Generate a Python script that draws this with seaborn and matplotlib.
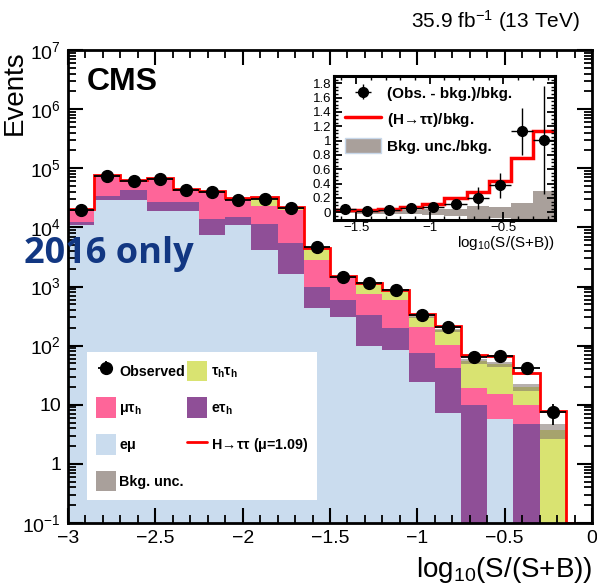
import numpy as np
import pandas as pd
import matplotlib
matplotlib.use("Agg")
import matplotlib.pyplot as plt
import seaborn as sns
from matplotlib.ticker import MultipleLocator, LogLocator, FuncFormatter, NullFormatter
from matplotlib.patches import Patch
from matplotlib.lines import Line2D

# ---------------- data ----------------
bin_edges = [-3.0, -2.85, -2.7, -2.55, -2.4, -2.25, -2.1, -1.95, -1.8, -1.65,
             -1.5, -1.35, -1.2, -1.05, -0.9, -0.75, -0.6, -0.45, -0.3, -0.15, 0.0]

emu = [10800, 28800, 29500, 18800, 18800, 7300, 10900, 4100, 1650, 440,
       306, 98, 85, 24.5, 7.3, 0, 5.8, 0, 0, 0]
etau = [1400, 5700, 14000, 7800, 8200, 6700, 4200, 7100, 3850, 540,
        280, 232, 112, 49.5, 34, 10, 0, 4.74, 0, 0]
mutau = [8200, 41000, 18500, 41500, 16000, 26000, 16000, 12200, 14500, 1790,
         835, 408, 388, 129, 61, 9, 9.6, 5.2, 0, 0]
tautau = [200, 400, 500, 500, 600, 800, 500, 9000, 1400, 1630,
          25, 362, 235, 107, 80, 35.5, 32.6, 9.8, 3.7, 0]
signal = [25, 130, 150, 230, 200, 270, 300, 430, 400, 132,
          51, 50, 66, 37, 36, 16, 20, 15, 4.2, 0]
bkg_unc_rel = [0.01, 0.01, 0.01, 0.01, 0.01, 0.012, 0.012, 0.012, 0.012, 0.015,
               0.02, 0.025, 0.03, 0.04, 0.05, 0.09, 0.08, 0.13, 0.30, 0.0]
observed = [20000, 73000, 62000, 67000, 43000, 40000, 29000, 30500, 21000, 4600,
            1475, 1140, 870, 332, 204, 65, 66, 42, 7.4, np.nan]
observed_err = [141, 270, 249, 259, 207, 200, 170, 175, 145, 68,
                38, 34, 29, 18, 14, 8, 8, 6.5, 2.8, np.nan]

# inset (bins from -1.65 to -0.15)
inset_edges = [-1.65, -1.5, -1.35, -1.2, -1.05, -0.9, -0.75, -0.6, -0.45, -0.3, -0.15]
ratio_obs = [0.05, 0.02, 0.037, 0.06, 0.07, 0.12, 0.2, 0.375, 1.13, 1.01]
ratio_obs_err = [0.015, 0.02, 0.025, 0.03, 0.04, 0.07, 0.15, 0.18, 0.33, 0.75]
ratio_sig = [0.03, 0.035, 0.045, 0.08, 0.12, 0.2, 0.29, 0.43, 0.76, 1.13]
ratio_unc = [0.015, 0.02, 0.025, 0.03, 0.04, 0.05, 0.09, 0.08, 0.13, 0.30]

processes = ["tautau", "mutau", "etau", "emu"]
colors = {"emu": "#cadcee", "etau": "#8f4f97", "mutau": "#fe6599", "tautau": "#d9e371"}
unc_color = "#7d706b"

# ---------------- style ----------------
sns.set_theme(style="ticks")
plt.rcParams["font.family"] = ["Liberation Sans", "DejaVu Sans"]
plt.rcParams["mathtext.fontset"] = "custom"
plt.rcParams["mathtext.rm"] = "Liberation Sans"
plt.rcParams["mathtext.it"] = "Liberation Sans:italic"
plt.rcParams["mathtext.bf"] = "Liberation Sans:bold"
plt.rcParams["xtick.direction"] = "in"
plt.rcParams["ytick.direction"] = "in"
plt.rcParams["xtick.top"] = True
plt.rcParams["ytick.right"] = True
plt.rcParams["axes.unicode_minus"] = True
for k in ["axes.edgecolor", "xtick.color", "ytick.color", "text.color", "axes.labelcolor"]:
    plt.rcParams[k] = "black"

edges = np.array(bin_edges)
centers = 0.5 * (edges[:-1] + edges[1:])
half_w = 0.5 * (edges[1:] - edges[:-1])

df = pd.DataFrame({
    "x": np.tile(centers, 4),
    "w": np.concatenate([tautau, mutau, etau, emu]),
    "process": np.repeat(processes, len(centers)),
})

fig = plt.figure(figsize=(5.97, 5.87), dpi=100)
ax = fig.add_axes([68 / 597, 1 - 523 / 587, 524 / 597, 473 / 587])

sns.histplot(data=df, x="x", weights="w", hue="process", hue_order=processes,
             bins=list(bin_edges), multiple="stack", element="step", palette=colors,
             alpha=1, linewidth=0, legend=False, ax=ax)
ax.set_yscale("log")
ax.set_axisbelow(False)

bkg = np.array(emu) + np.array(etau) + np.array(mutau) + np.array(tautau)
unc = np.array(bkg_unc_rel) * bkg
ax.stairs(bkg + unc, edges, baseline=np.maximum(bkg - unc, 1e-3), fill=True,
          color=unc_color, alpha=0.55, linewidth=0)

tot = np.maximum(bkg + np.array(signal), 0.1)
ax.stairs(tot, edges, color="red", linewidth=2.0, baseline=None)

obs_h = ax.errorbar(centers, observed, xerr=half_w, yerr=observed_err, fmt="o",
                    color="black", markersize=8.5, elinewidth=1.3, capsize=0)

ax.set_xlim(-3, 0)
ax.set_ylim(0.1, 1e7)
ax.xaxis.set_major_locator(MultipleLocator(0.5))
ax.xaxis.set_minor_locator(MultipleLocator(0.1))
ax.yaxis.set_major_locator(LogLocator(base=10, numticks=20))
ax.yaxis.set_minor_locator(LogLocator(base=10, subs=np.arange(2, 10), numticks=20))
ax.yaxis.set_minor_formatter(NullFormatter())


def logfmt(v, pos):
    e = int(round(np.log10(v)))
    if e == 0:
        return "1"
    if e == 1:
        return "10"
    return r"$10^{%d}$" % e


def numfmt(v, pos):
    return ("%g" % round(v, 2)).replace("-", "\u2212")


ax.yaxis.set_major_formatter(FuncFormatter(logfmt))
ax.xaxis.set_major_formatter(FuncFormatter(numfmt))
ax.tick_params(which="major", length=11, width=1.5, labelsize=14, pad=5)
ax.tick_params(which="minor", length=5.5, width=1.3)
for s in ax.spines.values():
    s.set_linewidth(2)
ax.set_xlabel(r"log$_{10}$(S/(S+B))", fontsize=20, loc="right", labelpad=6)
ax.set_ylabel("Events", fontsize=20, loc="top")
ax.yaxis.set_label_coords(-0.077, 1.0)

# legend
leg_handles = [obs_h,
               Patch(facecolor=colors["mutau"], edgecolor="none"),
               Patch(facecolor=colors["emu"], edgecolor="none"),
               Patch(facecolor="#a9a09b", edgecolor="none"),
               Patch(facecolor=colors["tautau"], edgecolor="none"),
               Patch(facecolor=colors["etau"], edgecolor="none"),
               Line2D([], [], color="red", linewidth=2)]
leg_labels = ["Observed",
              r"$\mathbf{\mu\tau_{h}}$",
              r"$\mathbf{e\mu}$",
              "Bkg. unc.",
              r"$\mathbf{\tau_{h}\tau_{h}}$",
              r"$\mathbf{e\tau_{h}}$",
              r"$\mathbf{H\!\rightarrow\!\tau\tau}$ $\mathbf{(\mu}$=1.09)"]
leg = ax.legend(leg_handles, leg_labels, ncol=2, loc="upper left",
                bbox_to_anchor=(87 / 597, 1 - 352 / 587), bbox_transform=fig.transFigure,
                prop={"weight": "bold", "size": 10.3}, frameon=True, fancybox=False,
                framealpha=1, facecolor="white", edgecolor="none",
                handlelength=1.4, handleheight=1.85, labelspacing=1.12,
                handletextpad=0.25, columnspacing=0.15, borderpad=0.6, borderaxespad=0)

# texts
fig.text(87 / 597, 1 - 82 / 587, "CMS", fontsize=23, fontweight="bold", va="center", ha="left")
fig.text(580 / 597, 1 - 21 / 587, r"35.9 fb$^{-1}$ (13 TeV)", fontsize=15, va="center", ha="right")
fig.text(24 / 597, 1 - 254 / 587, "2016 only", fontsize=26, fontweight="bold",
         family=["Open Sans", "DejaVu Sans"], color="#123782", va="center", ha="left")

# ---------------- inset ----------------
ax2 = fig.add_axes([334 / 597, 1 - 219.5 / 587, 221 / 597, 143.5 / 587])
iedges = np.array(inset_edges)
icent = 0.5 * (iedges[:-1] + iedges[1:])
ihw = 0.5 * (iedges[1:] - iedges[:-1])
ru = np.array(ratio_unc)
ax2.stairs(ru, iedges, baseline=-ru, fill=True, color="#a9a09b", linewidth=0)
ax2.stairs(ratio_sig, iedges, color="red", linewidth=2.5, baseline=None)
ins_h = ax2.errorbar(icent, ratio_obs, xerr=ihw, yerr=ratio_obs_err, fmt="o",
                     color="black", markersize=7, elinewidth=1.0, capsize=0)
ax2.set_axisbelow(False)
ax2.set_xlim(-1.65, -0.15)
ax2.set_ylim(-0.1, 1.9)
ax2.xaxis.set_major_locator(MultipleLocator(0.5))
ax2.xaxis.set_minor_locator(MultipleLocator(0.1))
ax2.yaxis.set_major_locator(MultipleLocator(0.2))
ax2.yaxis.set_minor_locator(MultipleLocator(0.05))
ax2.yaxis.set_major_formatter(FuncFormatter(numfmt))
ax2.xaxis.set_major_formatter(FuncFormatter(numfmt))
ax2.tick_params(which="major", length=6, width=1.3, labelsize=9.5, pad=2)
ax2.tick_params(which="minor", length=3, width=1.0)
for s in ax2.spines.values():
    s.set_linewidth(2.2)
ax2.set_xlabel(r"log$_{10}$(S/(S+B))", fontsize=11, loc="right", labelpad=0)
ax2.legend([ins_h, Line2D([], [], color="red", linewidth=2.5),
            Patch(facecolor="#a9a09b", edgecolor="#c8d8ea")],
           ["(Obs. - bkg.)/bkg.", r"$\mathbf{(H\!\rightarrow\!\tau\tau)}$/bkg.", "Bkg. unc./bkg."],
           loc="upper left", bbox_to_anchor=(343 / 597, 1 - 84 / 587),
           bbox_transform=fig.transFigure, frameon=False,
           prop={"weight": "bold", "size": 11}, handlelength=2.4, handleheight=1.1,
           labelspacing=0.62, handletextpad=0.4, borderpad=0.1, borderaxespad=0)

fig.savefig("out.png", dpi=100)
